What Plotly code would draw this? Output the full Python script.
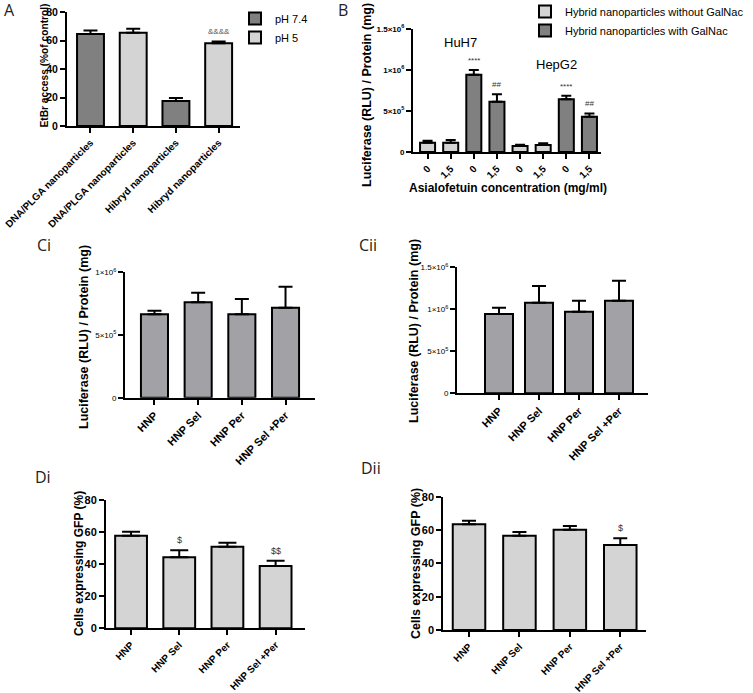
import plotly.graph_objects as go

# ---------------- data ----------------
A_labels = ["DNA/PLGA nanoparticles", "DNA/PLGA nanoparticles", "Hibryd nanoparticles", "Hibryd nanoparticles"]
A_groups = ["pH 7.4", "pH 5", "pH 7.4", "pH 5"]
A_means = [64.5, 65.4, 17.6, 58.1]
A_sd = [2.6, 2.8, 2.1, 1.2]
A_sig = ["", "", "", "&&&&"]

B_conc = ["0", "1,5", "0", "1,5", "0", "1,5", "0", "1,5"]
B_cell = ["HuH7", "HuH7", "HuH7", "HuH7", "HepG2", "HepG2", "HepG2", "HepG2"]
B_group = ["Hybrid nanoparticles without GalNac", "Hybrid nanoparticles without GalNac",
           "Hybrid nanoparticles with GalNac", "Hybrid nanoparticles with GalNac",
           "Hybrid nanoparticles without GalNac", "Hybrid nanoparticles without GalNac",
           "Hybrid nanoparticles with GalNac", "Hybrid nanoparticles with GalNac"]
B_means = [113e3, 113e3, 943e3, 613e3, 73e3, 85e3, 643e3, 430e3]
B_sd = [24e3, 33e3, 57e3, 90e3, 16e3, 21e3, 44e3, 41e3]
B_sig = ["", "", "****", "##", "", "", "****", "##"]

C_labels = ["HNP", "HNP Sel", "HNP Per", "HNP Sel +Per"]
Ci_means = [665e3, 761e3, 665e3, 718e3]
Ci_sd = [29e3, 76e3, 122e3, 167e3]
Cii_means = [944e3, 1079e3, 971e3, 1102e3]
Cii_sd = [75e3, 198e3, 131e3, 238e3]

D_labels = ["HNP", "HNP Sel", "HNP Per", "HNP Sel +Per"]
Di_means = [57.7, 44.3, 50.9, 38.8]
Di_sd = [2.5, 4.3, 2.5, 3.3]
Di_sig = ["", "$", "", "$$"]
Dii_means = [63.4, 56.6, 60.2, 51.0]
Dii_sd = [2.2, 2.2, 2.2, 4.0]
Dii_sig = ["", "", "", "$"]

# ---------------- styling ----------------
W, H = 753, 693
FONT = "Liberation Sans, Arial, sans-serif"
DARK = "#808080"
LIGHT = "#d4d4d4"
MID = "#a2a2a6"
A_colors = {"pH 7.4": DARK, "pH 5": LIGHT}
B_colors = {"Hybrid nanoparticles without GalNac": LIGHT, "Hybrid nanoparticles with GalNac": DARK}


def dx(a, b):
    return [a / W, b / W]


def dy(t, b):
    return [1 - b / H, 1 - t / H]


def err(arr, cap):
    return dict(type="data", array=arr, arrayminus=[0] * len(arr), symmetric=False,
                thickness=2, width=cap, color="black")


fig = go.Figure()

# Panel A
for grp in ["pH 7.4", "pH 5"]:
    idx = [i for i, g in enumerate(A_groups) if g == grp]
    fig.add_trace(go.Bar(
        x=idx, y=[A_means[i] for i in idx], width=0.63, name=grp,
        marker=dict(color=A_colors[grp], line=dict(color="black", width=2)),
        error_y=err([A_sd[i] for i in idx], 7), xaxis="x", yaxis="y", legend="legend"))

# Panel B
for grp in ["Hybrid nanoparticles without GalNac", "Hybrid nanoparticles with GalNac"]:
    idx = [i for i, g in enumerate(B_group) if g == grp]
    fig.add_trace(go.Bar(
        x=idx, y=[B_means[i] for i in idx], width=0.65, name=grp,
        marker=dict(color=B_colors[grp], line=dict(color="black", width=2)),
        error_y=err([B_sd[i] for i in idx], 5), xaxis="x2", yaxis="y2", legend="legend2"))

# Panels C
fig.add_trace(go.Bar(x=C_labels, y=Ci_means, width=0.62, showlegend=False,
                     marker=dict(color=MID, line=dict(color="black", width=2)),
                     error_y=err(Ci_sd, 7), xaxis="x3", yaxis="y3"))
fig.add_trace(go.Bar(x=C_labels, y=Cii_means, width=0.7, showlegend=False,
                     marker=dict(color=MID, line=dict(color="black", width=2)),
                     error_y=err(Cii_sd, 7), xaxis="x4", yaxis="y4"))

# Panels D
fig.add_trace(go.Bar(x=D_labels, y=Di_means, width=0.66, showlegend=False,
                     marker=dict(color=LIGHT, line=dict(color="black", width=2)),
                     error_y=err(Di_sd, 9), xaxis="x5", yaxis="y5"))
fig.add_trace(go.Bar(x=D_labels, y=Dii_means, width=0.645, showlegend=False,
                     marker=dict(color=LIGHT, line=dict(color="black", width=2)),
                     error_y=err(Dii_sd, 7), xaxis="x6", yaxis="y6"))

axcommon = dict(showline=True, linecolor="black", linewidth=2, ticks="outside", ticklen=5,
                tickwidth=2, tickcolor="black", showgrid=False, zeroline=False, automargin=False)


def xfont(size):
    return dict(family=FONT, size=size, color="black", weight="bold")


sci_text = {0: "0", 5e5: "5×10<sup>5</sup>", 1e6: "1×10<sup>6</sup>", 1.5e6: "1.5×10<sup>6</sup>"}

layout = dict(
    width=W, height=H, margin=dict(l=0, r=0, t=0, b=0, autoexpand=False),
    paper_bgcolor="white", plot_bgcolor="white", barmode="overlay",
    font=dict(family=FONT, color="black"),
    xaxis=dict(domain=dx(67, 240), range=[-0.55, 3.5], tickvals=list(range(len(A_labels))),
               ticktext=A_labels, tickangle=-45, tickfont=xfont(10), anchor="y", **axcommon),
    yaxis=dict(domain=dy(12, 126), range=[0, 80], dtick=20, tickfont=xfont(10.5), anchor="x", **axcommon),
    xaxis2=dict(domain=dx(413, 601), range=[-0.63, 7.5], tickvals=list(range(len(B_conc))),
                ticktext=B_conc, tickangle=-45, tickfont=xfont(10), anchor="y2", **axcommon),
    yaxis2=dict(domain=dy(29, 152), range=[0, 1.5e6], tickvals=list(sci_text.keys()),
                ticktext=list(sci_text.values()), tickfont=xfont(8), anchor="x2", **axcommon),
    xaxis3=dict(domain=dx(125, 315), range=[-0.675, 3.675], tickangle=-45, tickfont=xfont(11),
                anchor="y3", **axcommon),
    yaxis3=dict(domain=dy(272.3, 397.7), range=[0, 1e6], tickvals=[0, 5e5, 1e6],
                ticktext=[sci_text[0], sci_text[5e5], sci_text[1e6]],
                tickfont=dict(family=FONT, size=8, color="black"), anchor="x3", **axcommon),
    xaxis4=dict(domain=dx(457, 648), range=[-1.05, 3.725], tickangle=-45, tickfont=xfont(11),
                anchor="y4", **axcommon),
    yaxis4=dict(domain=dy(267.3, 393.3), range=[0, 1.5e6], tickvals=list(sci_text.keys()),
                ticktext=list(sci_text.values()),
                tickfont=dict(family=FONT, size=8, color="black"), anchor="x4", **axcommon),
    xaxis5=dict(domain=dx(106, 305), range=[-0.52, 3.61], tickangle=-45, tickfont=xfont(10),
                anchor="y5", **axcommon),
    yaxis5=dict(domain=dy(500, 628.3), range=[0, 80], dtick=20, tickfont=xfont(11), anchor="x5", **axcommon),
    xaxis6=dict(domain=dx(443.3, 646), range=[-0.51, 3.51], tickangle=-45, tickfont=xfont(10),
                anchor="y6", **axcommon),
    yaxis6=dict(domain=dy(496.7, 630), range=[0, 80], dtick=20, tickfont=xfont(11), anchor="x6", **axcommon),
    legend=dict(x=235 / W, y=1 - 4 / H, xanchor="left", yanchor="top", bgcolor="rgba(0,0,0,0)",
                font=dict(family=FONT, size=11, color="black"), tracegroupgap=0),
    legend2=dict(x=525 / W, y=1 + 3 / H, xanchor="left", yanchor="top", bgcolor="rgba(0,0,0,0)",
                 font=dict(family=FONT, size=11, color="black"), tracegroupgap=0),
)
fig.update_layout(**layout)

ann = []
# significance marks
for i, s in enumerate(A_sig):
    if s:
        ann.append(dict(x=i, y=A_means[i] + A_sd[i], xref="x", yref="y", text=s, showarrow=False,
                        xanchor="center", yanchor="bottom", yshift=3,
                        font=dict(family=FONT, size=8, color="#555")))
for i, s in enumerate(B_sig):
    if s:
        ann.append(dict(x=i, y=B_means[i] + B_sd[i], xref="x2", yref="y2", text=s, showarrow=False,
                        xanchor="center", yanchor="bottom", yshift=3,
                        font=dict(family=FONT, size=8, color="#333")))
for i, s in enumerate(Di_sig):
    if s:
        ann.append(dict(x=D_labels[i], y=Di_means[i] + Di_sd[i], xref="x5", yref="y5", text=s,
                        showarrow=False, xanchor="center", yanchor="bottom", yshift=3,
                        font=dict(family=FONT, size=9, color="#333")))
for i, s in enumerate(Dii_sig):
    if s:
        ann.append(dict(x=D_labels[i], y=Dii_means[i] + Dii_sd[i], xref="x6", yref="y6", text=s,
                        showarrow=False, xanchor="center", yanchor="bottom", yshift=3,
                        font=dict(family=FONT, size=9, color="#333")))

# cell-line labels in B
ann.append(dict(x=460 / W, y=1 - 43 / H, xref="paper", yref="paper", text=B_cell[0], showarrow=False,
                xanchor="center", yanchor="middle", font=dict(family=FONT, size=13, color="black")))
ann.append(dict(x=556 / W, y=1 - 64 / H, xref="paper", yref="paper", text=B_cell[4], showarrow=False,
                xanchor="center", yanchor="middle", font=dict(family=FONT, size=13, color="black")))


# axis titles
def ytitle(x, y, text, size):
    return dict(x=x / W, y=1 - y / H, xref="paper", yref="paper", text=text, textangle=-90,
                xanchor="center", yanchor="middle",
                showarrow=False, font=dict(family=FONT, size=size, color="black", weight="bold"))


ann.append(ytitle(44, 65.5, "EtBr access (%of control)", 10.2))
ann.append(ytitle(367, 95, "Luciferase (RLU) / Protein (mg)", 12.5))
ann.append(ytitle(84, 337, "Luciferase (RLU) / Protein (mg)", 12.5))
ann.append(ytitle(414, 331, "Luciferase (RLU) / Protein (mg)", 12.5))
ann.append(ytitle(79, 564, "Cells expressing GFP (%)", 12))
ann.append(ytitle(416, 563, "Cells expressing GFP (%)", 12.5))
ann.append(dict(x=508 / W, y=1 - 188 / H, xref="paper", yref="paper",
                text="Asialofetuin concentration (mg/ml)", showarrow=False,
                xanchor="center", yanchor="middle",
                font=dict(family=FONT, size=12, color="black", weight="bold")))

# panel letters
for letter, lx, ly in [("A", 2, 10), ("B", 336, 10), ("Ci", 35, 245), ("Cii", 357, 245),
                       ("Di", 33, 477), ("Dii", 359, 468)]:
    ann.append(dict(x=lx / W, y=1 - ly / H, xref="paper", yref="paper", text=letter, showarrow=False,
                    xanchor="left", yanchor="middle", font=dict(family="Open Sans", size=16, color="#222")))

fig.update_layout(annotations=ann)
fig.write_html("out.html", config={"displayModeBar": False},
               post_script="document.body.style.margin='0';document.body.style.padding='0';")
